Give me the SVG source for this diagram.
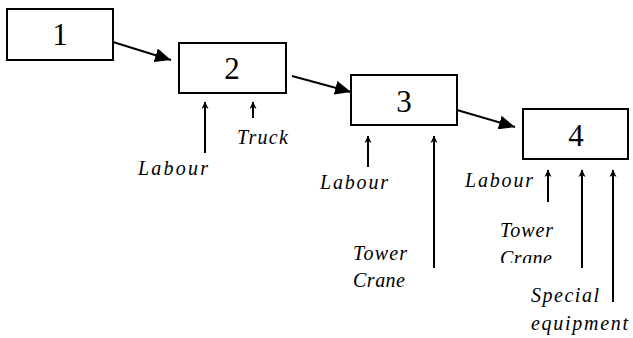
<svg xmlns="http://www.w3.org/2000/svg" width="633" height="338" viewBox="0 0 633 338">
  <style>
    .box { fill: #ffffff; stroke: #000000; stroke-width: 2; }
    .num { font-family: "Liberation Serif", "Times New Roman", serif; font-size: 31px; fill: #000000; text-anchor: middle; }
    .lbl { font-family: "Liberation Serif", "Times New Roman", serif; font-size: 20px; font-style: italic; fill: #000000; }
    .flow { stroke: #000000; stroke-width: 2; fill: none; marker-end: url(#bigHead); }
    .res { stroke: #000000; stroke-width: 2; fill: none; marker-end: url(#smallHead); }
  </style>
  <defs>
    <marker id="bigHead" viewBox="0 0 16 14" refX="16" refY="7" markerWidth="16" markerHeight="14" markerUnits="userSpaceOnUse" orient="auto">
      <path d="M0,0 L16,7 L0,14 Z" fill="#000000"/>
    </marker>
    <marker id="smallHead" viewBox="0 0 8 8" refX="7" refY="4" markerWidth="8" markerHeight="8" markerUnits="userSpaceOnUse" orient="auto">
      <path d="M0,0.5 L7.5,4 L0,7.5 L2,4 Z" fill="#000000"/>
    </marker>
    <clipPath id="craneClip">
      <rect x="490" y="240" width="80" height="23"/>
    </clipPath>
  </defs>

  <g id="connectors">
    <line class="flow" x1="113" y1="42" x2="171" y2="60"/>
    <line class="flow" x1="292" y1="76" x2="351" y2="92"/>
    <line class="flow" x1="457" y1="110" x2="515" y2="127"/>
    <line class="res" x1="205" y1="153" x2="205" y2="102"/>
    <line class="res" x1="253" y1="118" x2="253" y2="102"/>
    <line class="res" x1="368" y1="167" x2="368" y2="136"/>
    <line class="res" x1="434" y1="268" x2="434" y2="136"/>
    <line class="res" x1="548" y1="202" x2="548" y2="170"/>
    <line class="res" x1="582" y1="268" x2="582" y2="170"/>
    <line class="res" x1="613" y1="302" x2="613" y2="170"/>
  </g>

  <g id="node1">
    <rect class="box" x="7" y="9" width="106" height="51"/>
    <text class="num" x="60" y="45">1</text>
  </g>
  <g id="node2">
    <rect class="box" x="179" y="43" width="107" height="50"/>
    <text class="num" x="232" y="79">2</text>
  </g>
  <g id="node3">
    <rect class="box" x="351" y="75" width="106" height="50"/>
    <text class="num" x="404" y="112">3</text>
  </g>
  <g id="node4">
    <rect class="box" x="523" y="109" width="105" height="50"/>
    <text class="num" x="576" y="146">4</text>
  </g>

  <g id="labels">
    <text class="lbl" x="138" y="175" textLength="70" lengthAdjust="spacing">Labour</text>
    <text class="lbl" x="237" y="144" textLength="51" lengthAdjust="spacing">Truck</text>
    <text class="lbl" x="320" y="189" textLength="68" lengthAdjust="spacing">Labour</text>
    <text class="lbl" x="353" y="260" textLength="54" lengthAdjust="spacing">Tower</text>
    <text class="lbl" x="353" y="287" textLength="52" lengthAdjust="spacing">Crane</text>
    <text class="lbl" x="465" y="187" textLength="68" lengthAdjust="spacing">Labour</text>
    <text class="lbl" x="500" y="237" textLength="53" lengthAdjust="spacing">Tower</text>
    <text class="lbl" x="500" y="265" textLength="52" lengthAdjust="spacing" clip-path="url(#craneClip)">Crane</text>
    <text class="lbl" x="531" y="302" textLength="68" lengthAdjust="spacing">Special</text>
    <text class="lbl" x="531" y="330" textLength="97" lengthAdjust="spacing">equipment</text>
  </g>
</svg>
